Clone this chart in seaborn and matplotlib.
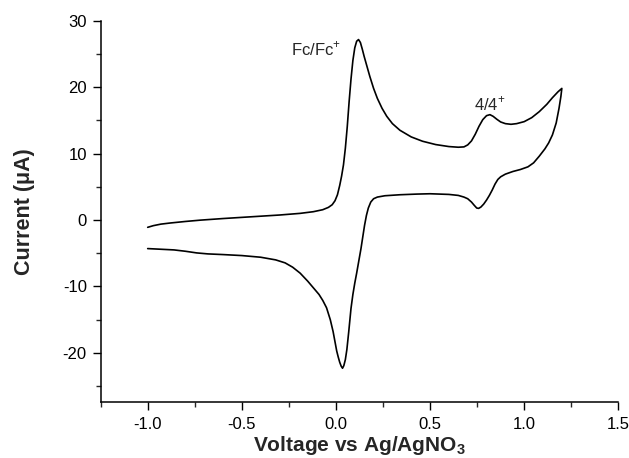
import matplotlib
matplotlib.use('Agg')
import matplotlib.pyplot as plt
from matplotlib.ticker import MultipleLocator, FormatStrFormatter
import numpy as np
import pandas as pd
import seaborn as sns

# forward scan (oxidation), -1.0 V -> 1.2 V
FWD_V = [-1.00, -0.97, -0.93, -0.88, -0.80, -0.72, -0.60, -0.456, -0.30, -0.19, -0.12, -0.07,
         -0.04, -0.02, -0.005, 0.008, 0.02, 0.03, 0.04, 0.05, 0.06, 0.07, 0.08, 0.09, 0.10,
         0.11, 0.12, 0.13, 0.14, 0.15, 0.165, 0.18, 0.20, 0.22, 0.245, 0.27, 0.30, 0.34, 0.40,
         0.46, 0.53, 0.60, 0.65, 0.68, 0.70, 0.72, 0.74, 0.76, 0.78, 0.80, 0.818, 0.835, 0.855,
         0.875, 0.90, 0.93, 0.96, 1.00, 1.04, 1.08, 1.12, 1.15, 1.18, 1.20]
FWD_I = [-1.1, -0.85, -0.62, -0.45, -0.22, -0.02, 0.22, 0.48, 0.75, 1.0, 1.25, 1.55,
         1.9, 2.3, 2.9, 3.8, 5.2, 6.6, 8.3, 10.8, 14.0, 17.8, 21.2, 24.0, 25.9,
         26.9, 27.15, 26.7, 25.7, 24.6, 23.1, 21.6, 19.8, 18.3, 16.8, 15.6, 14.5, 13.5, 12.5,
         11.85, 11.35, 11.05, 10.95, 11.0, 11.3, 11.9, 12.9, 14.1, 15.1, 15.7, 15.85, 15.6, 15.15,
         14.75, 14.5, 14.4, 14.5, 14.8, 15.4, 16.3, 17.4, 18.4, 19.3, 19.8]

# reverse scan (reduction), 1.2 V -> -1.0 V
REV_V = [1.20, 1.195, 1.185, 1.17, 1.15, 1.13, 1.11, 1.08, 1.05, 1.02, 0.98, 0.94, 0.90,
         0.875, 0.86, 0.845, 0.83, 0.815, 0.80, 0.785, 0.77, 0.758, 0.748, 0.735, 0.72, 0.70,
         0.68, 0.65, 0.60, 0.50, 0.43, 0.34, 0.26, 0.22, 0.20, 0.185, 0.172, 0.162, 0.152,
         0.143, 0.133, 0.122, 0.11, 0.10, 0.09, 0.08, 0.068, 0.058, 0.05, 0.042, 0.035, 0.028,
         0.02, 0.012, 0.004, -0.005, -0.015, -0.03, -0.05, -0.07, -0.09, -0.12, -0.15, -0.19,
         -0.23, -0.27, -0.32, -0.40, -0.50, -0.60, -0.68, -0.74, -0.80, -0.86, -0.93, -1.00]
REV_I = [19.8, 18.6, 16.8, 14.6, 12.8, 11.6, 10.7, 9.6, 8.6, 8.0, 7.6, 7.3, 6.9,
         6.5, 6.1, 5.4, 4.5, 3.7, 3.0, 2.4, 1.95, 1.75, 1.8, 2.2, 2.7, 3.2,
         3.45, 3.7, 3.85, 3.95, 3.9, 3.8, 3.65, 3.45, 3.2, 2.7, 1.8, 0.7, -0.8,
         -2.5, -4.3, -6.1, -8.0, -9.5, -11.2, -13.3, -16.8, -19.5, -21.0, -21.9, -22.3, -22.0,
         -21.4, -20.6, -19.7, -18.3, -16.8, -15.0, -13.2, -12.1, -11.2, -10.2, -9.2, -8.0,
         -7.1, -6.45, -6.0, -5.6, -5.35, -5.2, -5.1, -4.95, -4.7, -4.5, -4.4, -4.3]

cv = pd.DataFrame({'voltage': FWD_V + REV_V, 'current': FWD_I + REV_I})
cv['step'] = np.arange(len(cv))

sns.set_style('ticks')
plt.rcParams['font.family'] = ['Liberation Sans', 'DejaVu Sans']
plt.rcParams['axes.unicode_minus'] = False
plt.rcParams['mathtext.fontset'] = 'custom'
plt.rcParams['mathtext.rm'] = 'Liberation Sans'
plt.rcParams['mathtext.bf'] = 'Liberation Sans:bold'

fig = plt.figure(figsize=(6.29, 4.58), dpi=100)
ax = fig.add_axes([0.160, 0.122, 0.823, 0.833])
sns.lineplot(data=cv, x='voltage', y='current', sort=False, estimator=None,
             color='black', linewidth=1.2, ax=ax)

ax.set_xlim(-1.25, 1.5)
ax.set_ylim(-27.4, 30)
ax.xaxis.set_major_locator(MultipleLocator(0.5))
ax.xaxis.set_minor_locator(MultipleLocator(0.25))
ax.yaxis.set_major_locator(MultipleLocator(10))
ax.yaxis.set_minor_locator(MultipleLocator(5))
ax.xaxis.set_major_formatter(FormatStrFormatter('%.1f'))
ax.tick_params(which='major', length=6, width=1, labelsize=12, colors='black', pad=4)
ax.tick_params(axis='x', which='major', pad=5)
ax.tick_params(which='minor', length=3.5, width=1)
for s in ['left', 'bottom']:
    ax.spines[s].set_linewidth(1.1)
    ax.spines[s].set_color('black')
sns.despine(ax=ax)

ax.set_xlabel(r'Voltage vs Ag/AgNO$_\mathbf{3}$', fontsize=15, fontweight='bold', labelpad=1)
ax.set_ylabel('Current (μA)', fontsize=15.5, fontweight='bold', labelpad=20)

ax.text(0.025, 24.8, r'Fc/Fc$^{+}$', fontsize=12, ha='right', va='baseline')
ax.text(0.735, 16.5, r'4/4$^{+}$', fontsize=12, ha='left', va='baseline')

fig.savefig('out.png', dpi=100)
